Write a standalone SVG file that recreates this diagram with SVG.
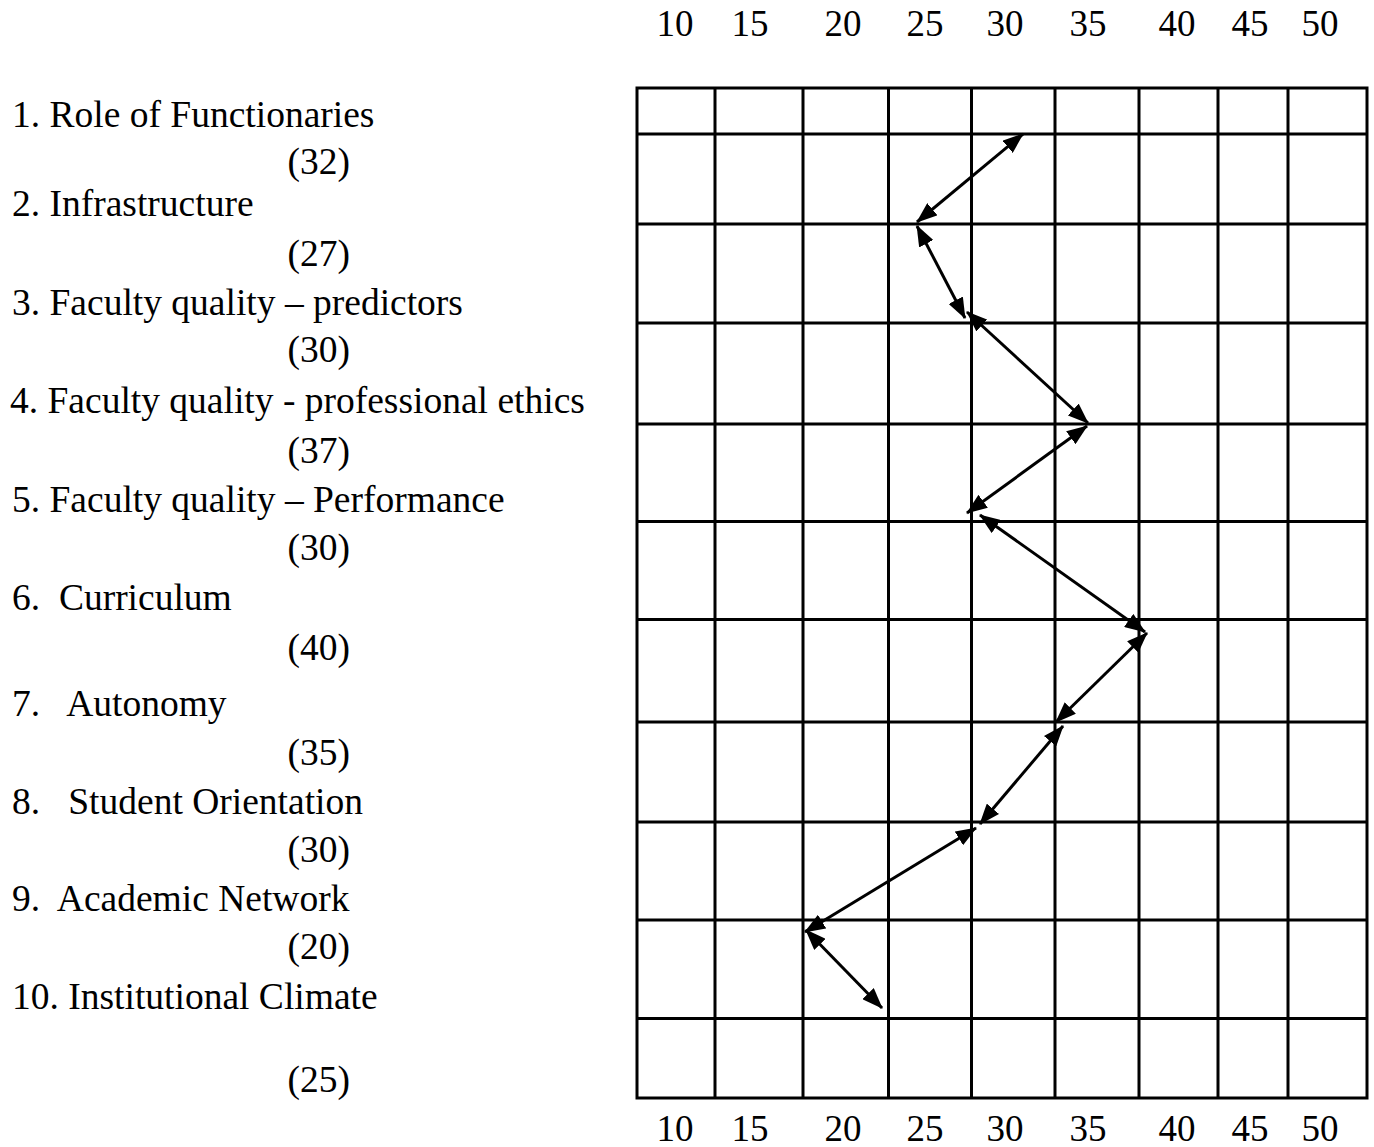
<svg xmlns="http://www.w3.org/2000/svg" width="1374" height="1147" viewBox="0 0 1374 1147">
<style>
text{font-family:"Liberation Serif","Times New Roman",serif;font-size:37.5px;fill:#000}
.g{stroke:#000;stroke-width:3;fill:none}
.c{stroke:#000;stroke-width:3;fill:none;marker-start:url(#ah);marker-end:url(#ah)}
.ax{text-anchor:middle;font-size:37px}
.v{text-anchor:end}
</style>
<defs>
<marker id="ah" markerUnits="userSpaceOnUse" markerWidth="21" markerHeight="16" refX="20" refY="8" orient="auto-start-reverse" viewBox="0 0 21 16">
<path d="M0,0 L21,8 L0,16 z" fill="#000"/>
</marker>
</defs>
<rect width="1374" height="1147" fill="#fff"/>
<g id="axis-top">
<text class="ax" x="675" y="36">10</text>
<text class="ax" x="750" y="36">15</text>
<text class="ax" x="843" y="36">20</text>
<text class="ax" x="925" y="36">25</text>
<text class="ax" x="1005" y="36">30</text>
<text class="ax" x="1088" y="36">35</text>
<text class="ax" x="1177" y="36">40</text>
<text class="ax" x="1250" y="36">45</text>
<text class="ax" x="1320" y="36">50</text>
</g>
<g id="axis-bottom">
<text class="ax" x="675" y="1141">10</text>
<text class="ax" x="750" y="1141">15</text>
<text class="ax" x="843" y="1141">20</text>
<text class="ax" x="925" y="1141">25</text>
<text class="ax" x="1005" y="1141">30</text>
<text class="ax" x="1088" y="1141">35</text>
<text class="ax" x="1177" y="1141">40</text>
<text class="ax" x="1250" y="1141">45</text>
<text class="ax" x="1320" y="1141">50</text>
</g>
<g id="grid" class="g">
<rect x="637" y="88" width="730" height="1010"/>
<path d="M715,88V1098M803,88V1098M888.5,88V1098M971.5,88V1098M1055,88V1098M1139,88V1098M1218,88V1098M1288,88V1098"/>
<path d="M637,134H1367M637,224H1367M637,323H1367M637,424H1367M637,521.5H1367M637,619.5H1367M637,722H1367M637,822H1367M637,920H1367M637,1018.5H1367"/>
</g>
<g id="labels">
<g id="n1"><text x="12" y="127">1. Role of Functionaries</text><text class="v" x="350" y="174">(32)</text></g>
<g id="n2"><text x="12" y="216">2. Infrastructure</text><text class="v" x="350" y="266">(27)</text></g>
<g id="n3"><text x="12" y="315">3. Faculty quality – predictors</text><text class="v" x="350" y="362">(30)</text></g>
<g id="n4"><text x="10" y="413">4. Faculty quality - professional ethics</text><text class="v" x="350" y="463">(37)</text></g>
<g id="n5"><text x="12" y="512">5. Faculty quality – Performance</text><text class="v" x="350" y="560">(30)</text></g>
<g id="n6"><text x="12" y="610" xml:space="preserve">6.  Curriculum</text><text class="v" x="350" y="660">(40)</text></g>
<g id="n7"><text x="12" y="716" xml:space="preserve">7.   Autonomy</text><text class="v" x="350" y="765">(35)</text></g>
<g id="n8"><text x="12" y="814" xml:space="preserve">8.   Student Orientation</text><text class="v" x="350" y="862">(30)</text></g>
<g id="n9"><text x="12" y="911" xml:space="preserve">9.  Academic Network</text><text class="v" x="350" y="959">(20)</text></g>
<g id="n10"><text x="12" y="1009">10. Institutional Climate</text><text class="v" x="350" y="1092">(25)</text></g>
</g>
<g id="connectors">
<line class="c" x1="1023" y1="134" x2="917" y2="222"/>
<line class="c" x1="917" y1="226" x2="965" y2="318"/>
<line class="c" x1="967" y1="312" x2="1088" y2="423"/>
<line class="c" x1="1087" y1="426" x2="967" y2="513"/>
<line class="c" x1="980" y1="515" x2="1145" y2="632"/>
<line class="c" x1="1147" y1="633" x2="1056" y2="722"/>
<line class="c" x1="1063" y1="726" x2="980" y2="824"/>
<line class="c" x1="976" y1="828" x2="805" y2="932"/>
<line class="c" x1="806" y1="930" x2="882" y2="1008"/>
</g>
</svg>
